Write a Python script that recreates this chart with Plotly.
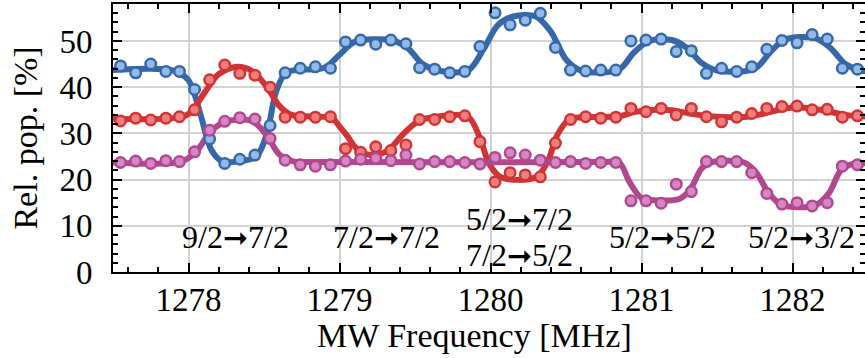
import plotly.graph_objects as go

# ---------------- data ----------------
freq = [1277.45, 1277.55, 1277.65, 1277.75, 1277.85, 1277.94, 1278.04, 1278.14, 1278.24, 1278.34,
        1278.44, 1278.54, 1278.64, 1278.74, 1278.84, 1278.94, 1279.04, 1279.14, 1279.24, 1279.34,
        1279.44, 1279.53, 1279.63, 1279.73, 1279.83, 1279.93, 1280.03, 1280.13, 1280.23, 1280.33,
        1280.43, 1280.53, 1280.63, 1280.73, 1280.83, 1280.93, 1281.03, 1281.13, 1281.23, 1281.33,
        1281.43, 1281.53, 1281.63, 1281.73, 1281.83, 1281.93, 1282.03, 1282.13, 1282.23, 1282.33,
        1282.43]

blue_pts = [43.7, 44.6, 43.1, 45.0, 43.4, 43.4, 39.5, 28.8, 23.5, 24.4,
            25.3, 31.7, 43.1, 44.1, 44.4, 44.1, 49.8, 50.2, 49.3, 50.2,
            49.4, 44.2, 43.9, 43.1, 43.4, 48.8, 56.1, 53.5, 54.5, 56.0,
            48.6, 43.7, 43.5, 43.7, 43.7, 50.0, 50.2, 50.4, 47.7, 47.9,
            43.0, 44.1, 43.4, 44.4, 48.2, 50.1, 49.6, 51.4, 50.4, 44.1,
            43.9]

red_pts = [33.3, 32.7, 33.3, 32.9, 33.3, 33.6, 35.1, 41.6, 44.8, 43.0,
           42.6, 40.0, 33.5, 33.5, 33.5, 33.6, 26.7, 25.9, 27.1, 26.3,
           27.5, 33.0, 33.0, 33.6, 33.8, 28.2, 19.5, 21.5, 21.0, 20.6,
           27.9, 33.0, 33.6, 33.3, 33.5, 35.4, 34.7, 35.4, 34.0, 35.4,
           33.6, 32.5, 33.5, 34.3, 35.4, 35.8, 35.9, 35.1, 35.2, 33.5,
           33.8]

mag_pts = [23.7, 23.7, 24.0, 23.5, 24.1, 23.9, 26.0, 30.7, 32.6, 33.4,
           33.1, 28.9, 24.2, 23.2, 22.9, 23.2, 24.0, 24.4, 24.6, 24.1,
           25.3, 23.4, 23.9, 23.9, 23.7, 23.4, 24.8, 25.8, 25.3, 24.2,
           23.7, 23.9, 23.5, 23.7, 23.7, 15.4, 15.4, 14.9, 19.0, 17.4,
           23.9, 23.9, 23.9, 21.5, 17.0, 14.7, 15.0, 14.3, 15.0, 22.9,
           23.2]

# fitted curves
blue_fit_f = [1277.45, 1277.9, 1278.0, 1278.08, 1278.15, 1278.22, 1278.35, 1278.45, 1278.52, 1278.58,
              1278.65, 1278.9, 1279.0, 1279.1, 1279.35, 1279.45, 1279.55, 1279.65, 1279.85, 1279.95,
              1280.05, 1280.15, 1280.3, 1280.4, 1280.5, 1280.6, 1280.85, 1280.95, 1281.05, 1281.2,
              1281.3, 1281.4, 1281.5, 1281.75, 1281.85, 1281.95, 1282.15, 1282.25, 1282.35, 1282.45,
              1282.5]
blue_fit_v = [43.6, 43.6, 41.5, 34.0, 26.5, 24.0, 24.0, 25.0, 30.0, 39.0,
              43.2, 44.2, 47.0, 49.8, 50.1, 48.5, 45.0, 43.6, 43.6, 48.0,
              53.5, 55.3, 55.3, 52.0, 46.0, 43.6, 43.8, 47.5, 50.0, 50.2,
              48.5, 45.2, 43.6, 44.0, 47.5, 50.3, 50.6, 48.5, 45.0, 43.6,
              43.5]

red_fit_f = [1277.45, 1277.9, 1278.0, 1278.1, 1278.2, 1278.32, 1278.42, 1278.52, 1278.6, 1278.68,
             1278.95, 1279.0, 1279.05, 1279.12, 1279.22, 1279.32, 1279.42, 1279.52, 1279.62, 1279.85,
             1279.93, 1279.99, 1280.07, 1280.3, 1280.38, 1280.44, 1280.52, 1280.6, 1280.85, 1280.95,
             1281.1, 1281.2, 1281.32, 1281.45, 1281.7, 1281.8, 1281.95, 1282.05, 1282.2, 1282.35,
             1282.5]
red_fit_v = [33.2, 33.3, 34.2, 38.5, 42.8, 44.4, 43.5, 40.0, 36.0, 34.0,
             33.3, 31.5, 29.5, 26.5, 25.3, 26.3, 29.8, 32.6, 33.5, 33.6,
             29.0, 23.5, 20.5, 20.5, 24.0, 29.5, 33.0, 33.5, 33.7, 34.6,
             35.1, 35.0, 34.3, 33.7, 33.6, 34.2, 35.4, 35.6, 35.0, 34.0,
             33.6]

mag_fit_f = [1277.45, 1277.95, 1278.05, 1278.15, 1278.25, 1278.42, 1278.52, 1278.6, 1278.7, 1278.8,
             1280.75, 1280.85, 1280.92, 1281.0, 1281.1, 1281.25, 1281.32, 1281.4, 1281.47, 1281.68,
             1281.76, 1281.84, 1281.93, 1282.15, 1282.24, 1282.32, 1282.4, 1282.5]
mag_fit_v = [23.8, 23.9, 26.0, 30.5, 32.6, 32.7, 29.5, 25.5, 23.9, 23.8,
             23.8, 23.8, 19.5, 16.0, 15.5, 15.8, 17.7, 22.5, 23.8, 23.7,
             21.5, 17.2, 14.5, 14.4, 17.0, 22.0, 23.4, 23.5]

label_from = ["9/2", "7/2", "5/2", "7/2", "5/2", "5/2"]
label_to = ["7/2", "7/2", "7/2", "5/2", "5/2", "3/2"]
label_f = [1278.31, 1279.31, 1280.19, 1280.19, 1281.14, 1282.06]
label_y = [7.6, 7.6, 11.4, 3.7, 7.6, 7.6]

x_ticks = [1278, 1279, 1280, 1281, 1282]
y_ticks = [0, 10, 20, 30, 40, 50]

# ---------------- styling ----------------
series = [
    (blue_fit_f, blue_fit_v, blue_pts, "#3668a8", "#93b9e8"),
    (red_fit_f, red_fit_v, red_pts, "#d03434", "#ef7f7f"),
    (mag_fit_f, mag_fit_v, mag_pts, "#b0488e", "#d487c4"),
]
FONT = "Liberation Serif, Times New Roman, serif"
ARROW = "<span style='font-family:DejaVu Sans;font-size:30px'>➞</span>"

fig = go.Figure()
for ff, fv, pts, lc, fc in series:
    fig.add_trace(go.Scatter(x=ff, y=fv, mode="lines",
                             line=dict(color=lc, width=6, shape="spline", smoothing=0.9),
                             hoverinfo="skip", showlegend=False))
for ff, fv, pts, lc, fc in series:
    fig.add_trace(go.Scatter(x=freq, y=pts, mode="markers",
                             marker=dict(size=10.5, color=fc, line=dict(color=lc, width=2.5)),
                             showlegend=False))

for a, b, fx, fy in zip(label_from, label_to, label_f, label_y):
    fig.add_annotation(x=fx, y=fy, text=a + ARROW + b, showarrow=False,
                       xanchor="center", yanchor="middle",
                       font=dict(family=FONT, size=32, color="black"))

# x-axis title placed as a paper annotation
fig.add_annotation(x=0.481, y=-0.236, xref="paper", yref="paper", text="MW Frequency [MHz]",
                   showarrow=False, xanchor="center", yanchor="middle",
                   font=dict(family=FONT, size=34, color="black"))

axis_common = dict(showline=True, linecolor="black", linewidth=2, mirror="ticks",
                   ticks="inside", tickcolor="black", tickwidth=1.5, ticklen=9,
                   showgrid=True, gridcolor="#d2d2d2", gridwidth=1.5, zeroline=False,
                   automargin=False,
                   tickfont=dict(family=FONT, size=33, color="black"))

fig.update_xaxes(range=[1277.5, 1282.48], tickvals=x_ticks, ticklabelstandoff=-3,
                 minor=dict(dtick=0.2, ticks="inside", ticklen=5, tickwidth=1.5, tickcolor="black", showgrid=False),
                 **axis_common)
fig.update_yaxes(range=[0, 58], tickvals=y_ticks, ticklabelstandoff=12,
                 minor=dict(dtick=2, ticks="inside", ticklen=5, tickwidth=1.5, tickcolor="black", showgrid=False),
                 title=dict(text="Rel. pop. [%]", font=dict(family=FONT, size=34, color="black"), standoff=12),
                 **axis_common)

fig.update_layout(width=865, height=358, margin=dict(l=113, r=0, t=4, b=86),
                  plot_bgcolor="white", paper_bgcolor="white")

fig.write_html("out.html", config={"displayModeBar": False},
               post_script="document.body.style.margin='0';")
